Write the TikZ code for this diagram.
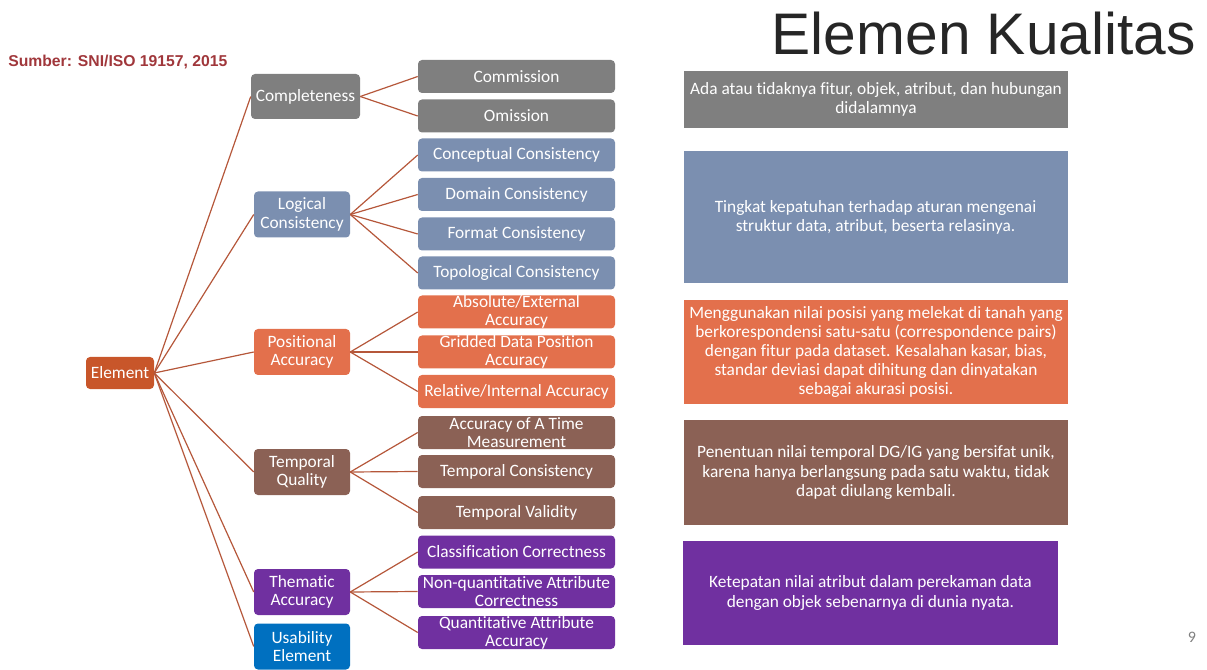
\documentclass[tikz,border=0pt]{standalone}
\usepackage{fontspec}
\setmainfont{Carlito}[Ligatures=NoCommon]
\newfontfamily\arialfont{Liberation Sans}
\definecolor{grayc}{HTML}{7F7F7F}
\definecolor{bluegray}{HTML}{7B8FB0}
\definecolor{orangec}{HTML}{E3704C}
\definecolor{brownc}{HTML}{8B6155}
\definecolor{purplec}{HTML}{7030A0}
\definecolor{elemc}{HTML}{C8562A}
\definecolor{usec}{HTML}{0070C0}
\definecolor{linkc}{HTML}{B5573A}
\definecolor{srcc}{HTML}{A0373B}
\definecolor{titlec}{HTML}{262626}
\begin{document}
\begin{tikzpicture}[x=0.75pt,y=-0.75pt]
            \tikzstyle{box}=[rectangle, rounded corners=3pt, text=white, align=center, inner sep=0pt, font=\fontsize{13}{14}\selectfont]
            \tikzstyle{lvlone}=[box, minimum width=72pt, minimum height=34.5pt]
            \tikzstyle{lvltwo}=[box, minimum width=147.75pt, minimum height=24.75pt, font=\fontsize{13}{13.5}\selectfont]
            \tikzstyle{desc}=[rectangle, text=white, align=center, inner sep=0pt, minimum width=288pt, font=\fontsize{13}{14.3}\selectfont]
            \tikzstyle{link}=[draw=linkc, line width=0.9pt]
            \useasboundingbox (0,0) rectangle (1207,670);
            \node [anchor=base east, inner sep=0pt, text=titlec, font=\arialfont\fontsize{44}{44}\selectfont] (title) at (1196,55) {Elemen Kualitas};
            \node [anchor=base west, inner sep=0pt, text=srcc, font=\arialfont\bfseries\fontsize{11.8}{12}\selectfont] (src) at (8,67) {Sumber: SNI/ISO 19157, 2015};
            \node [box, fill=elemc, minimum width=51pt, minimum height=24pt] (elem) at (120,373) {Element};
            \node [lvlone, fill=grayc, minimum width=81.75pt, minimum height=33.75pt] (compl) at (305.5,96.5) {Completeness};
            \node [lvlone, fill=bluegray] (logic) at (302,214.5) {Logical\\Consistency};
            \node [lvlone, fill=orangec] (posit) at (302,352) {Positional\\Accuracy};
            \node [lvlone, fill=brownc] (tempo) at (302,472) {Temporal\\Quality};
            \node [lvlone, fill=purplec] (thema) at (302,592) {Thematic\\Accuracy};
            \node [lvlone, fill=usec] (usab) at (302,646.5) {Usability\\Element};
            \node [lvltwo, fill=grayc] (com) at (516.5,76.5) {Commission};
            \node [lvltwo, fill=grayc] (omi) at (516.5,116) {Omission};
            \node [lvltwo, fill=bluegray] (concon) at (516.5,155) {Conceptual Consistency};
            \node [lvltwo, fill=bluegray] (domcon) at (516.5,194.5) {Domain Consistency};
            \node [lvltwo, fill=bluegray] (fmtcon) at (516.5,234) {Format Consistency};
            \node [lvltwo, fill=bluegray] (topcon) at (516.5,273) {Topological Consistency};
            \node [lvltwo, fill=orangec] (absacc) at (516.5,312) {Absolute/External\\Accuracy};
            \node [lvltwo, fill=orangec] (gridacc) at (516.5,352) {Gridded Data Position\\Accuracy};
            \node [lvltwo, fill=orangec] (relacc) at (516.5,391.5) {Relative/Internal Accuracy};
            \node [lvltwo, fill=brownc] (timeacc) at (516.5,432.5) {Accuracy of A Time\\Measurement};
            \node [lvltwo, fill=brownc] (tmpcon) at (516.5,471.5) {Temporal Consistency};
            \node [lvltwo, fill=brownc] (tmpval) at (516.5,512.5) {Temporal Validity};
            \node [lvltwo, fill=purplec] (clscor) at (516.5,552) {Classification Correctness};
            \node [lvltwo, fill=purplec] (nqcor) at (516.5,591.5) {Non-quantitative Attribute\\Correctness};
            \node [lvltwo, fill=purplec] (qacc) at (516.5,632.5) {Quantitative Attribute\\Accuracy};
            \node [desc, fill=grayc, minimum height=42.75pt] (dcompl) at (876,99.5) {Ada atau tidaknya fitur, objek, atribut, dan hubungan\\didalamnya};
            \node [desc, fill=bluegray, minimum height=99pt] (dlogic) at (875.5,217) {Tingkat kepatuhan terhadap aturan mengenai\\struktur data, atribut, beserta relasinya.};
            \node [desc, fill=orangec, minimum height=78pt] (dposit) at (876,352) {Menggunakan nilai posisi yang melekat di tanah yang\\berkorespondensi satu-satu (correspondence pairs)\\dengan fitur pada dataset. Kesalahan kasar, bias,\\standar deviasi dapat dihitung dan dinyatakan\\sebagai akurasi posisi.};
            \node [desc, fill=brownc, minimum height=78.75pt] (dtempo) at (876,472.5) {Penentuan nilai temporal DG/IG yang bersifat unik,\\karena hanya berlangsung pada satu waktu, tidak\\dapat diulang kembali.};
            \node [desc, fill=purplec, minimum width=281.25pt, minimum height=78pt] (dthema) at (870.5,593) {Ketepatan nilai atribut dalam perekaman data\\dengan objek sebenarnya di dunia nyata.};
            \node [anchor=base, inner sep=0pt, text=grayc, font=\fontsize{12}{12}\selectfont] (pnum) at (1192,642) {9};
            \foreach \a/\b in {elem/compl, elem/logic, elem/posit, elem/tempo, elem/thema, elem/usab,
                compl/com, compl/omi, logic/concon, logic/domcon, logic/fmtcon, logic/topcon,
                posit/absacc, posit/gridacc, posit/relacc, tempo/timeacc, tempo/tmpcon, tempo/tmpval,
                thema/clscor, thema/nqcor, thema/qacc}
              \draw [link] (\a.east) -- (\b.west);
          \end{tikzpicture}
\end{document}
